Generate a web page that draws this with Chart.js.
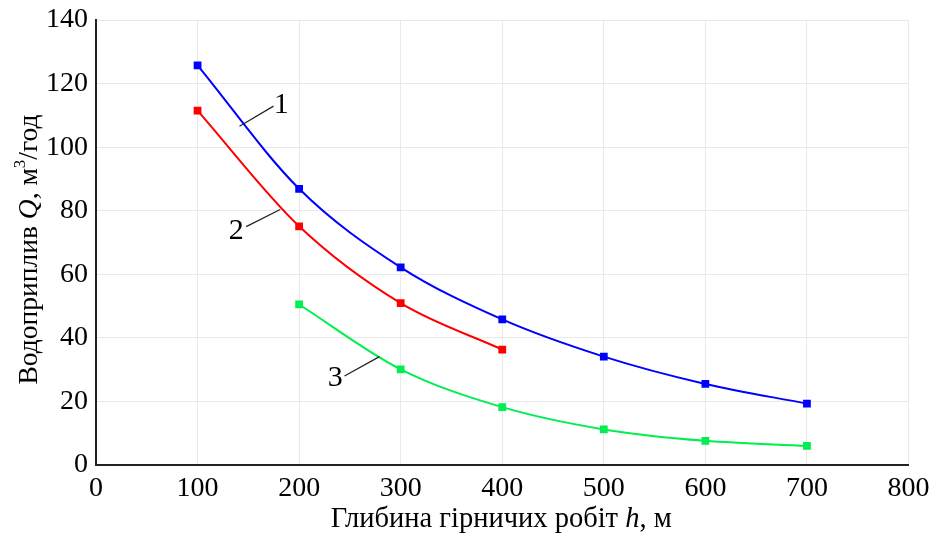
<!DOCTYPE html>
<html>
<head>
<meta charset="utf-8">
<script src="https://cdn.jsdelivr.net/npm/chart.js@4.4.1/dist/chart.umd.min.js"></script>
<style>
  html, body { margin: 0; padding: 0; background: #fff; }
  #wrap { width: 933px; height: 535px; }
</style>
</head>
<body>
<div id="wrap"><canvas id="grafica" width="933" height="535"></canvas></div>
<script>
// Глибина, м
const glibina = [100, 200, 300, 400, 500, 600, 700];
// Водоприплив, м3/год (null = немає виміру)
const kriva1 = [125.7, 86.9, 62.2, 45.8, 34.1, 25.5, 19.3];
const kriva2 = [111.5, 75.1, 50.9, 36.3, null, null, null];
const kriva3 = [null, 50.5, 30.1, 18.2, 11.2, 7.6, 6.0];

const xTicks = [0, 100, 200, 300, 400, 500, 600, 700, 800];
const yTicks = [0, 20, 40, 60, 80, 100, 120, 140];

// номери кривих: текст + виноска (в одиницях осей)
const vynosky = [
  { text: '1', tx: 182.4, ty: 113.3, x1: 141.3, y1: 106.6, x2: 174.8, y2: 112.9 },
  { text: '2', tx: 138.1, ty: 73.6,  x1: 181.4, y1: 80.4,  x2: 147.9, y2: 75.0 },
  { text: '3', tx: 235.5, ty: 27.4,  x1: 279.1, y1: 34.1,  x2: 244.7, y2: 28.0 }
];

const SERIF = "'Liberation Serif', 'Times New Roman', serif";

function tochky(ys) {
  return glibina.map((x, i) => ({ x, y: ys[i] })).filter(p => p.y !== null);
}

function seriya(ys, color) {
  return {
    data: tochky(ys),
    borderColor: color,
    backgroundColor: color,
    borderWidth: 2,
    cubicInterpolationMode: 'monotone',
    pointStyle: 'rect',
    pointRadius: 5.5,
    pointBorderWidth: 0,
    pointBackgroundColor: color
  };
}

// малює рядок із фрагментів (курсив, верхній індекс)
function richText(ctx, parts, x, y, size) {
  const fontOf = p => (p.i ? 'italic ' : '') + (p.sup ? Math.round(size * 0.6) : size) + 'px ' + SERIF;
  let total = 0;
  parts.forEach(p => { ctx.font = fontOf(p); total += ctx.measureText(p.t).width; });
  let cx = x - total / 2;
  parts.forEach(p => {
    ctx.font = fontOf(p);
    ctx.fillText(p.t, cx, p.sup ? y - size * 0.42 : y);
    cx += ctx.measureText(p.t).width;
  });
}

const pidpysy = {
  id: 'pidpysy',
  afterDatasetsDraw(chart) {
    const { ctx, scales: { x, y } } = chart;
    ctx.save();
    ctx.strokeStyle = '#222';
    ctx.lineWidth = 1.2;
    ctx.fillStyle = '#000';
    ctx.textAlign = 'center';
    ctx.textBaseline = 'middle';
    ctx.font = '30px ' + SERIF;
    vynosky.forEach(v => {
      ctx.beginPath();
      ctx.moveTo(x.getPixelForValue(v.x1), y.getPixelForValue(v.y1));
      ctx.lineTo(x.getPixelForValue(v.x2), y.getPixelForValue(v.y2));
      ctx.stroke();
      ctx.fillText(v.text, x.getPixelForValue(v.tx), y.getPixelForValue(v.ty));
    });
    ctx.restore();
  },
  afterDraw(chart) {
    const { ctx, chartArea } = chart;
    ctx.save();
    ctx.fillStyle = '#000';
    ctx.textAlign = 'left';
    ctx.textBaseline = 'alphabetic';
    // підпис осі X
    richText(ctx, [
      { t: 'Глибина гірничих робіт ' },
      { t: 'h', i: true },
      { t: ', м' }
    ], (chartArea.left + chartArea.right) / 2 - 1, 527, 28.5);
    // підпис осі Y
    ctx.translate(37, (chartArea.top + chartArea.bottom) / 2 + 7);
    ctx.rotate(-Math.PI / 2);
    richText(ctx, [
      { t: 'Водоприплив ' },
      { t: 'Q', i: true },
      { t: ', м' },
      { t: '3', sup: true },
      { t: '/год' }
    ], 0, 0, 27.5);
    ctx.restore();
  }
};

Chart.defaults.font.family = SERIF;
Chart.defaults.color = '#000';

new Chart(document.getElementById('grafica'), {
  type: 'line',
  data: {
    datasets: [
      seriya(kriva1, '#0000ff'),
      seriya(kriva2, '#ff0000'),
      seriya(kriva3, '#00ee50')
    ]
  },
  options: {
    responsive: false,
    animation: false,
    layout: { padding: { top: 20, right: 24.5, left: 0, bottom: 0 } },
    plugins: { legend: { display: false }, tooltip: { enabled: false } },
    scales: {
      x: {
        type: 'linear',
        min: 0, max: 800,
        afterFit: s => { s.height = 70; s.paddingLeft = 0; s.paddingRight = 0; },
        afterBuildTicks: s => { s.ticks = xTicks.map(v => ({ value: v })); },
        grid: { color: '#e9e9e9', drawTicks: false },
        border: { color: '#222', width: 2 },
        ticks: { font: { size: 28 }, padding: 7, maxRotation: 0 }
      },
      y: {
        min: 0, max: 140,
        afterFit: s => { s.width = 96; s.paddingTop = 0; s.paddingBottom = 0; },
        afterBuildTicks: s => { s.ticks = yTicks.map(v => ({ value: v })); },
        grid: { color: '#e9e9e9', drawTicks: false },
        border: { color: '#222', width: 2 },
        ticks: { font: { size: 28 }, padding: 8 }
      }
    }
  },
  plugins: [pidpysy]
});
</script>
</body>
</html>
